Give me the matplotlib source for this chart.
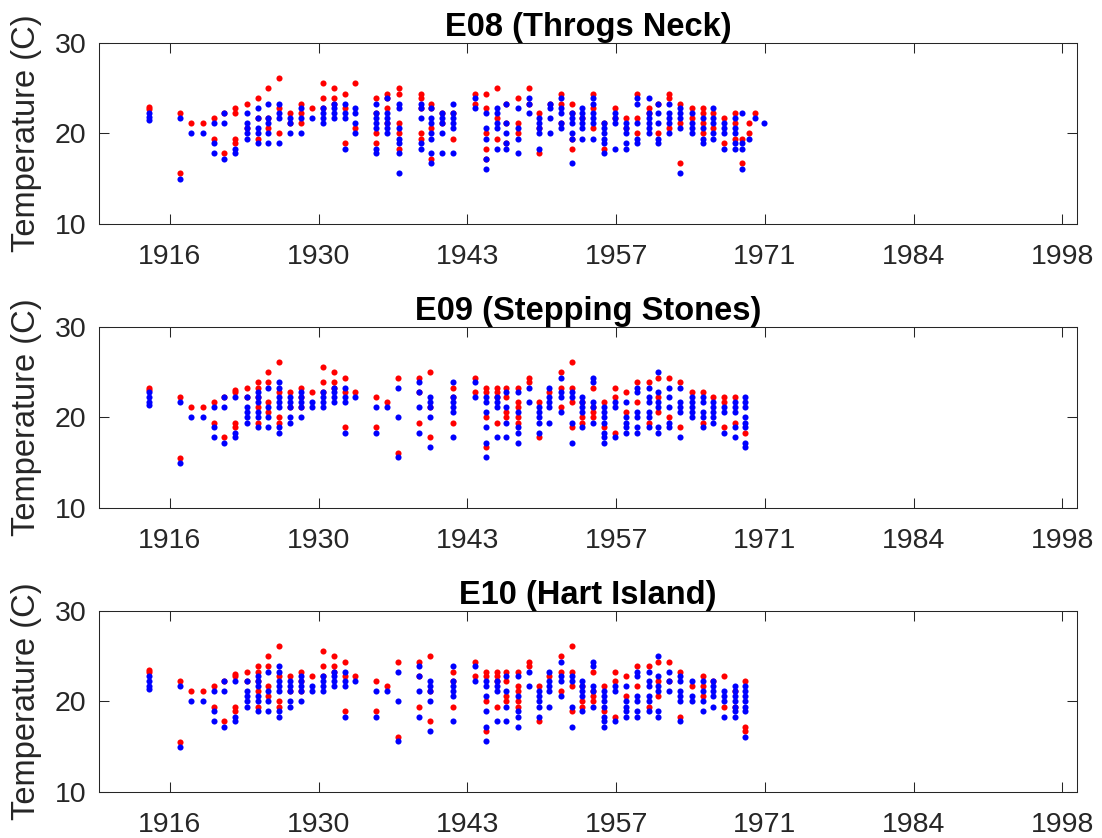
import matplotlib
matplotlib.use("Agg")
import matplotlib.pyplot as plt

plt.rcParams['font.family'] = ['Liberation Sans', 'DejaVu Sans']

# x ticks (decimal years) and their labels
tick_years = [1916.53, 1930.22, 1943.91, 1957.60, 1971.29, 1984.98, 1998.67]
tick_labels = ['1916', '1930', '1943', '1957', '1971', '1984', '1998']

# ---- E08 (Throgs Neck) ----
e08_years = [1914.6, 1917.5, 1918.5, 1919.6, 1920.6, 1921.5, 1922.5, 1923.6, 1924.6, 1925.6,
             1926.6, 1927.6, 1928.6, 1929.6, 1930.6, 1931.6, 1932.6, 1933.6, 1935.5, 1936.5,
             1937.6, 1939.6, 1940.6, 1941.6, 1942.6, 1944.6, 1945.6, 1946.6, 1947.5, 1948.6,
             1949.6, 1950.5, 1951.5, 1952.5, 1953.5, 1954.5, 1955.5, 1956.5, 1957.5, 1958.5,
             1959.5, 1960.6, 1961.5, 1962.5, 1963.5, 1964.6, 1965.6, 1966.5, 1967.5, 1968.5,
             1969.2, 1969.8, 1970.4, 1971.2]
e08_red = [
    [22.9, 22.7], [15.6, 22.2], [21.1], [21.1], [21.7, 19.4], [22.2, 17.8],
    [22.8, 22.2, 19.4, 18.9], [23.3, 20.6], [23.9, 21.7, 19.4], [25.0, 21.7, 20.6],
    [26.1, 22.8, 20.0], [22.2, 21.1], [23.3, 22.2, 21.1], [22.8], [25.6, 23.9, 22.8],
    [25.0, 23.9, 23.3], [24.4, 22.8, 18.9], [25.6, 20.6], [23.9, 22.2, 20.0, 18.9],
    [24.4, 23.9, 22.8, 21.1], [25.0, 24.4, 21.1, 20.0, 18.3], [24.4, 23.9, 22.8, 20.0, 19.4],
    [23.3, 22.8, 20.6, 17.2], [22.2, 21.1], [22.2, 19.4], [24.4, 23.3],
    [24.4, 22.8, 20.0, 18.3, 17.2], [25.0, 21.7, 19.4], [23.3, 21.1, 18.9], [23.9, 21.1, 20.0],
    [25.0, 23.3], [22.2, 20.6, 17.8], [23.3], [24.4, 23.3, 21.1], [23.3, 22.2, 19.4, 18.3],
    [21.7], [24.4, 22.8, 20.6], [21.1, 18.3], [22.8, 21.7], [21.7, 20.6],
    [24.4, 21.7, 20.0], [22.8, 22.2], [23.3, 20.0], [24.4, 23.9, 20.6], [23.3, 21.1, 16.7],
    [22.8, 21.7], [22.8, 22.2, 21.1, 20.0], [22.2, 20.6], [21.7, 18.9], [22.2, 21.1, 19.4],
    [19.4, 16.7], [21.1, 20.0], [22.2], [],
]
e08_blue = [
    [22.2, 21.8, 21.5], [15.0, 21.7], [20.0], [20.0], [21.1, 18.9, 17.8], [22.2, 21.1, 17.2],
    [18.3, 17.8], [22.2, 21.1, 20.6, 20.0, 19.4], [22.8, 21.7, 20.6, 20.0, 18.9],
    [23.3, 21.7, 21.1, 20.0, 18.9], [23.3, 22.2, 21.7, 18.9], [21.7, 21.1, 20.0],
    [22.8, 21.7, 20.0], [21.7], [22.8, 22.2, 21.7, 21.1], [23.3, 22.8, 22.2, 21.7],
    [23.3, 22.2, 21.7, 18.3], [22.8, 22.2, 21.1, 20.0], [23.3, 22.2, 21.7, 21.1, 20.6, 18.3, 17.8],
    [23.9, 22.2, 21.7, 21.1, 20.6, 20.0], [23.3, 22.8, 20.6, 19.4, 18.9, 17.8, 15.6],
    [23.3, 22.8, 21.7, 18.9, 18.3], [22.8, 21.7, 21.1, 20.0, 19.4, 17.8, 16.7],
    [22.2, 21.7, 21.1, 20.0, 17.8], [23.3, 22.2, 21.7, 21.1, 20.6, 17.8], [23.9, 22.8],
    [22.2, 20.6, 19.4, 17.2, 16.1], [22.8, 22.2, 21.1, 20.6, 18.3], [23.3, 21.1, 20.0, 18.9, 18.3],
    [22.8, 20.6, 19.4, 17.8], [23.9, 23.3, 22.2], [21.7, 21.1, 20.6, 20.0, 18.3],
    [23.3, 22.8, 21.7, 20.0], [23.9, 22.8, 22.2, 21.1, 20.6], [22.2, 21.7, 21.1, 20.0, 19.4, 16.7],
    [22.8, 22.2, 21.7, 21.1, 20.6, 19.4], [23.9, 23.3, 22.2, 21.7, 21.1, 19.4],
    [21.1, 20.6, 20.0, 19.4, 18.9, 17.8], [22.2, 21.7, 21.1, 18.3], [21.1, 20.6, 20.0, 18.9, 18.3],
    [23.9, 23.3, 21.1, 19.4, 18.9], [23.9, 22.2, 21.7, 21.1, 20.6, 20.0],
    [23.3, 22.2, 21.1, 19.4, 18.9], [23.3, 22.2, 21.7, 21.1, 20.0], [22.8, 22.2, 21.7, 20.6, 15.6],
    [22.2, 21.1, 20.6, 20.0], [21.7, 20.6, 19.4, 18.9], [22.8, 21.7, 21.1, 20.0, 19.4],
    [21.1, 20.6, 20.0, 18.3], [21.7, 20.6, 20.0, 18.9, 18.3], [22.2, 18.9, 18.3, 16.1],
    [19.4], [21.7], [21.1],
]

# ---- E09 (Stepping Stones) ----
e09_years = [1914.6, 1917.5, 1918.5, 1919.6, 1920.6, 1921.5, 1922.5, 1923.6, 1924.6, 1925.6,
             1926.6, 1927.6, 1928.6, 1929.6, 1930.6, 1931.6, 1932.6, 1933.6, 1935.5, 1936.5,
             1937.5, 1939.5, 1940.5, 1942.6, 1944.6, 1945.6, 1946.6, 1947.5, 1948.6, 1949.6,
             1950.5, 1951.4, 1952.5, 1953.5, 1954.5, 1955.5, 1956.5, 1957.5, 1958.5, 1959.5,
             1960.6, 1961.5, 1962.5, 1963.5, 1964.6, 1965.6, 1966.5, 1967.5, 1968.5, 1969.5]
e09_red = [
    [23.3, 23.0], [15.5, 22.2], [21.1], [21.1], [21.7, 19.4], [22.2, 17.8],
    [23.0, 22.8, 19.4, 18.9], [23.3, 22.2], [23.9, 23.3, 22.2, 21.1, 19.4], [25.0, 23.9, 21.7, 20.6],
    [26.1, 22.8, 20.0, 19.4], [22.8, 21.1], [23.3, 22.2, 21.1], [22.8], [25.6, 23.9, 22.8],
    [25.0, 23.9, 23.3], [24.4, 22.8, 18.9], [22.8], [22.2, 18.9], [21.7],
    [24.4, 16.1], [24.4, 22.8, 19.4], [25.0, 21.1, 17.8], [23.3, 22.2, 19.4], [24.4, 22.8],
    [23.3, 22.8, 20.0, 16.7], [23.3, 22.8, 22.2, 19.4], [23.3, 22.2, 20.6, 20.0],
    [23.3, 21.7, 21.1, 20.0, 19.4], [24.4, 23.9], [21.7, 17.8], [22.8], [25.0, 23.3, 21.1],
    [26.1, 23.3, 21.7, 18.9], [21.7, 20.0, 19.4], [23.3, 21.1, 20.6, 20.0], [21.7, 18.9],
    [23.3, 22.2, 18.3], [22.8, 20.6], [23.9, 21.7], [23.9, 19.4], [24.4, 22.2, 20.6],
    [24.4, 20.0], [23.9, 18.9], [22.8], [22.8, 19.4], [22.2], [22.2, 21.7, 18.9],
    [22.2, 19.4], [18.3],
]
e09_blue = [
    [22.8, 22.2, 21.7, 21.4], [15.0, 21.7], [20.0], [20.0], [21.1, 18.9, 17.8], [22.2, 21.1, 17.2],
    [22.2, 18.3, 17.8], [22.2, 21.1, 20.6, 20.0, 19.4], [22.8, 22.2, 21.7, 20.6, 20.0, 18.9],
    [23.3, 21.1, 20.0, 18.9], [23.9, 23.3, 22.2, 21.7, 21.1, 18.9, 18.3],
    [22.2, 21.7, 21.1, 20.0, 19.4], [22.8, 22.2, 21.7, 21.1, 20.0], [21.7, 21.1],
    [22.8, 22.2, 21.7, 21.1], [23.3, 22.8, 22.2, 21.7], [23.3, 22.2, 21.7, 18.3], [22.2],
    [21.1, 18.3], [21.1], [23.3, 20.0, 15.6], [23.9, 22.8, 21.1, 18.3],
    [22.2, 21.7, 21.1, 20.0, 16.7], [23.9, 22.2, 21.7, 21.1, 20.6, 17.8], [23.9, 22.2],
    [22.2, 21.7, 20.6, 18.9, 17.2, 15.6], [22.2, 21.7, 21.1, 17.8], [22.8, 21.1, 19.4, 17.8],
    [22.8, 20.6, 18.9, 18.3, 17.2], [23.3, 21.7], [21.1, 20.6, 20.0, 19.4, 18.3],
    [23.3, 22.2, 21.7, 21.1, 19.4], [24.4, 22.8, 22.2, 20.6], [22.8, 22.2, 19.4, 17.2],
    [22.2, 21.7, 21.1, 20.6, 18.9], [24.4, 23.9, 21.7, 21.1, 19.4],
    [21.1, 20.6, 20.0, 19.4, 18.3, 17.8, 17.2], [21.7, 21.1, 17.8], [21.7, 20.0, 19.4, 18.9, 18.3],
    [23.3, 22.8, 20.6, 20.0, 18.9, 18.3], [23.3, 22.2, 21.7, 20.6, 20.0, 18.9],
    [25.0, 22.8, 21.7, 21.1, 18.9, 18.3], [23.3, 22.2, 21.1, 19.4, 18.9],
    [23.3, 21.7, 21.1, 20.6, 17.8], [22.2, 21.7, 21.1, 20.6, 20.0], [22.2, 21.7, 20.6, 20.0, 18.9],
    [21.7, 21.1, 20.6, 20.0, 19.4], [21.1, 20.6, 18.3], [21.7, 21.1, 20.6, 18.9, 17.8],
    [22.2, 21.7, 21.1, 20.0, 19.4, 18.9, 17.2, 16.7],
]

# ---- E10 (Hart Island) ----
e10_years = list(e09_years)
e10_red = [
    [23.5, 23.2], [15.5, 22.2], [21.1], [21.1], [21.7, 19.4], [22.2, 17.8],
    [23.0, 22.8, 19.4, 18.9], [23.3, 22.2], [23.9, 23.3, 22.2, 21.1, 19.4], [25.0, 23.9, 21.7, 20.6],
    [26.1, 22.8, 20.0, 19.4], [22.8, 21.1], [23.3, 22.2, 21.1], [22.8], [25.6, 23.9, 22.8],
    [25.0, 23.9, 23.3], [24.4, 22.8, 18.9], [22.8], [22.2, 18.9], [21.7],
    [24.4, 16.1], [24.4, 22.8, 19.4], [25.0, 21.1, 17.8], [23.3, 22.2, 19.4], [24.4, 22.8],
    [23.3, 22.8, 20.0, 16.7], [23.3, 22.8, 22.2, 19.4], [23.3, 22.2, 20.6, 20.0],
    [23.3, 21.7, 21.1, 20.0, 19.4], [24.4, 23.9], [21.7, 17.8], [22.8], [25.0, 23.3, 21.1],
    [26.1, 23.3, 21.7, 18.9], [21.7, 20.0, 19.4], [23.3, 21.1, 20.6, 20.0], [21.7, 18.9],
    [23.3, 22.2, 18.3], [22.8, 20.6], [23.9, 21.7], [23.9, 19.4], [24.4, 22.2, 20.6],
    [24.4, 22.2], [23.3, 18.3], [21.7], [22.8, 21.7, 20.6], [22.2], [22.8, 19.4],
    [21.1, 19.4], [22.2, 17.2, 16.7],
]
e10_blue = [
    [22.8, 22.2, 21.7, 21.4], [15.0, 21.7], [20.0], [20.0], [21.1, 18.9, 17.8], [22.2, 21.1, 17.2],
    [22.2, 18.3, 17.8], [22.2, 21.1, 20.6, 20.0, 19.4], [22.8, 22.2, 21.7, 20.6, 20.0, 18.9],
    [23.3, 21.1, 20.0, 18.9], [23.9, 23.3, 22.2, 21.7, 21.1, 18.9, 18.3],
    [22.2, 21.7, 21.1, 20.0, 19.4], [22.8, 22.2, 21.7, 21.1, 20.0], [21.7, 21.1],
    [22.8, 22.2, 21.7, 21.1], [23.3, 22.8, 22.2, 21.7], [23.3, 22.2, 21.7, 18.3], [22.2],
    [21.1, 18.3], [21.1], [23.3, 20.0, 15.6], [23.9, 22.8, 21.1, 18.3],
    [22.2, 21.7, 21.1, 20.0, 16.7], [23.9, 22.2, 21.7, 21.1, 20.6, 17.8], [23.9, 22.2],
    [22.2, 21.7, 20.6, 18.9, 17.2, 15.6], [22.2, 21.7, 21.1, 17.8], [22.8, 21.1, 19.4, 17.8],
    [22.8, 20.6, 18.9, 18.3, 17.2], [23.3, 21.7], [21.1, 20.6, 20.0, 19.4, 18.3],
    [23.3, 22.2, 21.7, 21.1, 19.4], [24.4, 22.8, 22.2, 20.6], [22.8, 22.2, 19.4, 17.2],
    [22.2, 21.7, 21.1, 20.6, 18.9], [24.4, 23.9, 21.7, 21.1, 19.4],
    [21.1, 20.6, 20.0, 19.4, 18.3, 17.8, 17.2], [21.7, 21.1, 17.8], [21.7, 20.0, 19.4, 18.9, 18.3],
    [23.3, 22.8, 20.6, 20.0, 18.9, 18.3], [23.3, 22.2, 21.7, 20.6, 20.0, 18.9],
    [25.0, 22.8, 21.7, 21.1, 18.9, 18.3], [23.3, 22.2, 21.1],
    [22.8, 22.2, 21.1, 20.6, 20.0, 17.8], [22.2, 20.6, 20.0], [22.2, 21.1, 20.0, 18.9],
    [22.2, 21.7, 21.1, 20.6, 19.4], [21.1, 20.6, 20.0, 18.3],
    [21.7, 21.1, 20.6, 20.0, 19.4, 18.9, 18.3], [21.7, 21.1, 20.6, 20.0, 19.4, 18.9, 16.1],
]

titles = ['E08 (Throgs Neck)', 'E09 (Stepping Stones)', 'E10 (Hart Island)']
panel_data = [(e08_years, e08_red, e08_blue),
              (e09_years, e09_red, e09_blue),
              (e10_years, e10_red, e10_blue)]

fig = plt.figure(figsize=(11.02, 8.38), dpi=100)
W, H = 1102, 838
left, right = 99, 1076.7
tops = [42.7, 326.7, 610.7]
ax_h = 181.5
dark = (0.15, 0.15, 0.15)


def flatten(years, cols):
    xs, ys = [], []
    for yr, vals in zip(years, cols):
        for v in vals:
            xs.append(yr)
            ys.append(v)
    return xs, ys


for top, title, (years, red, blue) in zip(tops, titles, panel_data):
    ax = fig.add_axes([left / W, 1 - (top + ax_h) / H, (right - left) / W, ax_h / H])
    rx, ry = flatten(years, red)
    bx, by = flatten(years, blue)
    ax.plot(rx, ry, 'o', color='red', markersize=4.4, markeredgewidth=0, linestyle='none')
    ax.plot(bx, by, 'o', color='blue', markersize=4.4, markeredgewidth=0, linestyle='none')
    ax.set_xlim(1910.0, 2000.0)
    ax.set_ylim(10, 30)
    ax.set_xticks(tick_years)
    ax.set_xticklabels(tick_labels)
    ax.set_yticks([10, 20, 30])
    ax.tick_params(direction='in', length=7, width=0.75, colors=dark,
                   labelsize=20.5, top=True, right=True)
    ax.tick_params(axis='x', pad=14)
    ax.tick_params(axis='y', pad=9)
    for sp in ax.spines.values():
        sp.set_color(dark)
        sp.set_linewidth(0.75)
    ax.set_title(title, fontsize=23.5, fontweight='bold', pad=5)
    ax.set_ylabel('Temperature (C)', fontsize=23.5, color=dark)
    ax.yaxis.set_label_coords(-0.058, 0.5)

fig.savefig('out.png', dpi=100)
